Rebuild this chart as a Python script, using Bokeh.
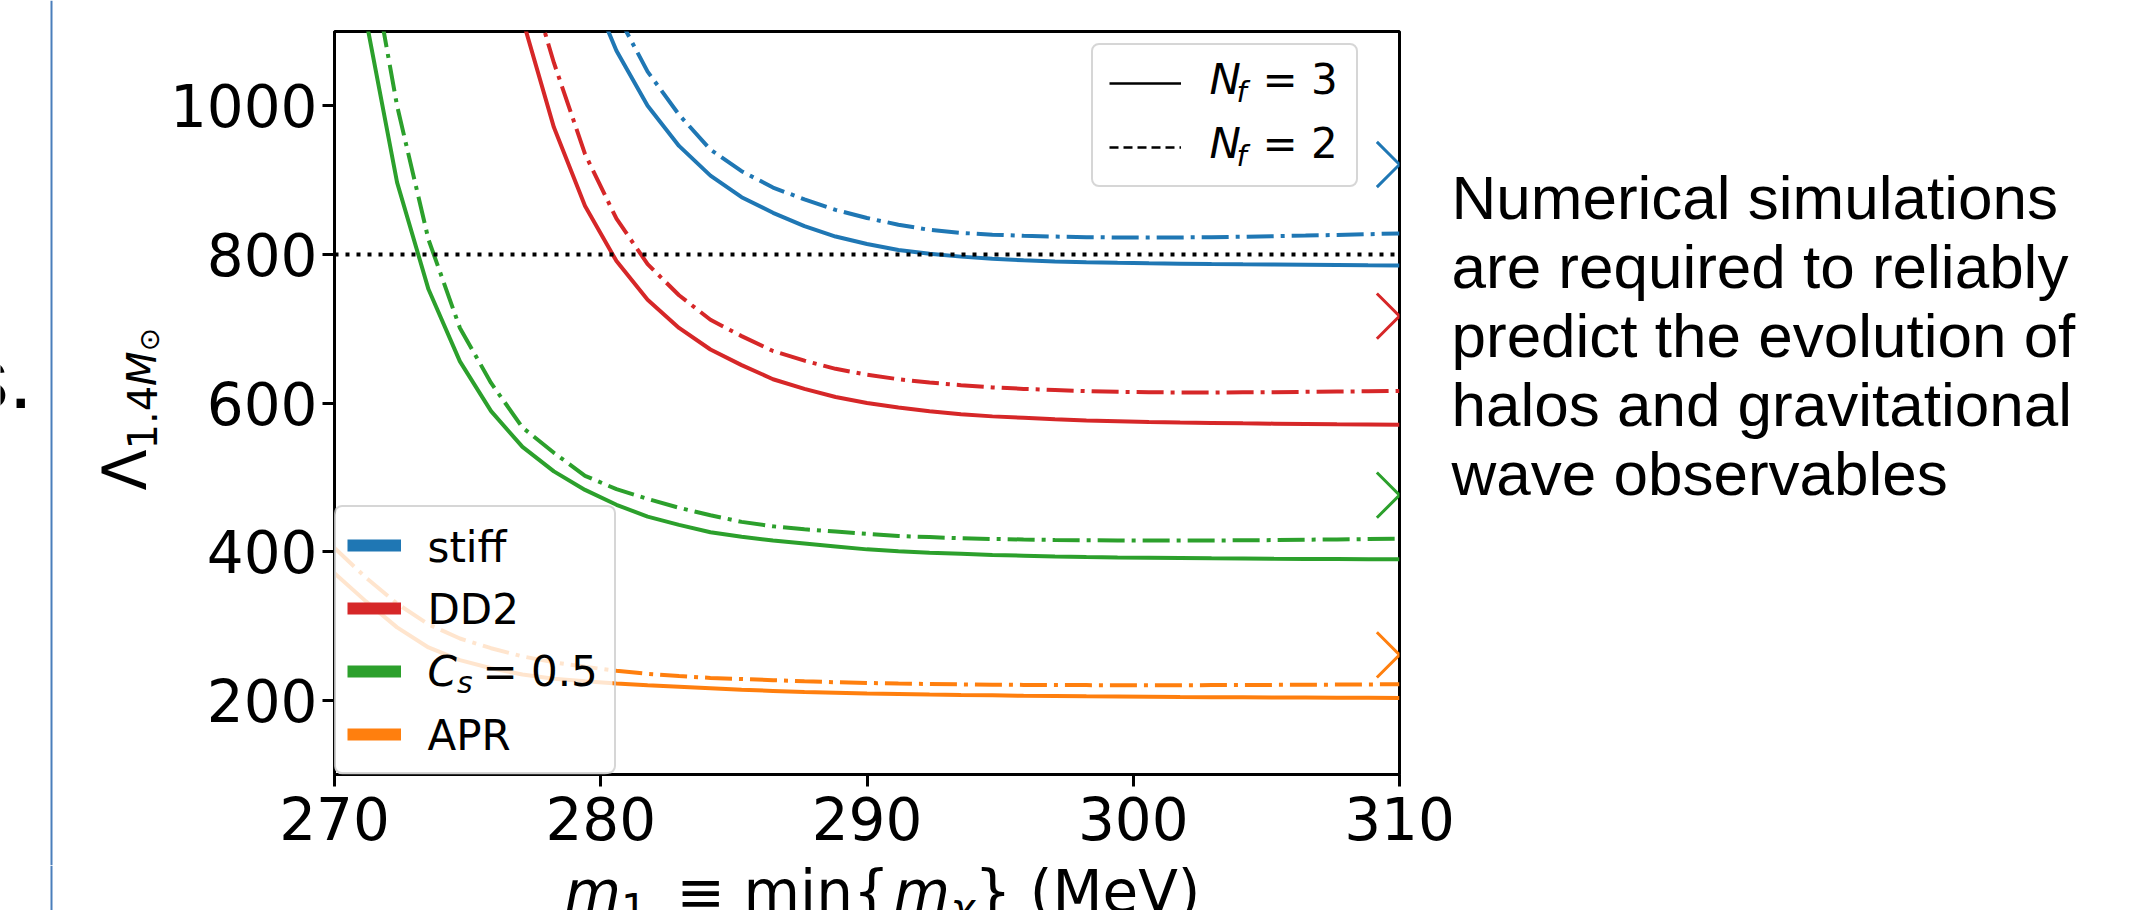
import math
from bokeh.plotting import figure
from bokeh.layouts import row, column
from bokeh.models import (Label, Legend, LegendItem, FixedTicker, Range1d, Span,
                          ColumnDataSource, LinearAxis, BoxAnnotation)
from bokeh.embed import file_html
from bokeh.resources import INLINE

NAN = float("nan")

# ---------------- data ----------------
M1 = [270.00, 271.18, 272.35, 273.53, 274.71, 275.88, 277.06, 278.24, 279.41,
      280.59, 281.76, 282.94, 284.12, 285.29, 286.47, 287.65, 288.82, 290.00,
      291.18, 292.35, 293.53, 294.71, 295.88, 297.06, 298.24, 299.41, 300.59,
      301.76, 302.94, 304.12, 305.29, 306.47, 307.65, 308.82, 310.00]

STIFF_NF3 = [NAN, NAN, NAN, NAN, NAN, NAN, NAN, NAN, 1175, 1074, 1000, 946, 906,
             877, 856, 838, 824, 814, 806, 801, 797, 794, 792, 790.5, 789.5,
             788.7, 788.0, 787.5, 787.0, 786.6, 786.3, 786.0, 785.7, 785.4, 785.2]
STIFF_NF2 = [NAN, NAN, NAN, NAN, NAN, NAN, NAN, NAN, NAN, 1125, 1046, 988, 941,
             912, 890, 874, 860, 849, 840, 833, 829, 826.5, 825, 824, 823.2,
             822.8, 822.6, 822.8, 823.2, 823.8, 824.5, 825.3, 826.2, 827.2, 828.2]
DD2_NF3 = [NAN, NAN, NAN, NAN, NAN, NAN, 1117, 971, 865, 791, 739, 701, 672,
           651, 632, 619, 608, 600, 594, 589, 585, 582, 580, 578, 576.5, 575.5,
           574.5, 573.8, 573.2, 572.6, 572.2, 571.8, 571.4, 571.1, 570.8]
DD2_NF2 = [NAN, NAN, NAN, NAN, NAN, NAN, 1200, 1058, 935, 848, 787, 745, 712,
           690, 670, 657, 646, 638, 632, 627.5, 624, 621, 619, 617.5, 616, 615,
           614.5, 614.2, 614.2, 614.4, 614.6, 615.0, 615.4, 615.8, 616.3]
CS05_NF3 = [NAN, 1117, 897, 753, 656, 589, 541, 508, 483, 463, 447, 436, 426,
            420, 415, 411, 407, 403, 400.5, 398.5, 397, 395.5, 394.5, 393.5,
            392.8, 392.2, 391.8, 391.4, 391.0, 390.7, 390.4, 390.2, 390.0, 389.8, 389.6]
CS05_NF2 = [NAN, 1234, 1000, 820, 701, 627, 567, 533, 502, 484, 471, 459, 449,
            440, 434, 430, 427, 424, 421, 419.5, 418, 417, 416.3, 415.7, 415.2,
            415.0, 414.8, 414.8, 415.0, 415.2, 415.5, 416.0, 416.4, 416.8, 417.2]
APR_NF3 = [371, 333, 298, 271, 254, 243, 234.5, 229, 225.5, 222.5, 220, 218,
           216, 214, 212.5, 211, 210, 209, 208.3, 207.6, 207, 206.5, 206, 205.6,
           205.2, 204.9, 204.6, 204.3, 204.1, 203.9, 203.7, 203.5, 203.3, 203.2, 203.0]
APR_NF2 = [405, 365, 330, 302, 283, 270, 259, 251, 245, 239.5, 235.5, 232.5,
           230, 228.5, 227, 225.5, 224.2, 223.2, 222.4, 221.8, 221.3, 220.9,
           220.6, 220.4, 220.3, 220.2, 220.2, 220.2, 220.3, 220.4, 220.6, 220.8,
           221.0, 221.2, 221.5]

EOS_NAMES = ["stiff", "DD2", "C_s = 0.5", "APR"]
EOS_COLORS = ["#1f77b4", "#d62728", "#2ca02c", "#ff7f0e"]
SIM_M1 = [310, 310, 310, 310]
SIM_LAMBDA = [921, 717, 476, 261]
LAMBDA_LIMIT = 800

X_RANGE = (270, 310)
Y_RANGE = (100, 1100)
X_TICKS = [270, 280, 290, 300, 310]
Y_TICKS = [200, 400, 600, 800, 1000]

SIDE_TEXT = ["Numerical simulations", "are required to reliably",
             "predict the evolution of", "halos and gravitational",
             "wave observables"]

# ---------------- layout constants (page pixels) ----------------
LEFT_W = 163                     # width of the strip left of the main figure
FX0, FY0 = 334, 31               # frame left / top
FW, FH = 1065, 743
FY1 = FY0 + FH                   # frame bottom (774)
MAIN_BOTTOM = 91
TOP_H = FY0 + FH + MAIN_BOTTOM   # 865
PAGE_W, PAGE_H = 2140, 910
FONT = "DejaVu Sans"
SIDE_FONT = "Liberation Sans"
DESC = 0.27                      # measured drop of Label text below its anchor (em)

# ---------------- main figure ----------------
p = figure(frame_width=FW, frame_height=FH, min_border_left=FX0 - LEFT_W,
           min_border_top=FY0, min_border_bottom=MAIN_BOTTOM, min_border_right=0,
           x_range=Range1d(*X_RANGE), y_range=Range1d(*Y_RANGE),
           output_backend="svg", toolbar_location=None)
p.xgrid.visible = False
p.ygrid.visible = False
p.outline_line_color = "black"
p.outline_line_width = 3
p.outline_line_alpha = 1

xax, yax = p.xaxis[0], p.yaxis[0]
for ax in (xax, yax):
    ax.axis_line_width = 3
    ax.axis_line_color = "black"
    ax.major_tick_line_width = 3
    ax.major_tick_line_color = "black"
    ax.major_tick_out = 12
    ax.major_tick_in = 0
    ax.minor_tick_line_color = None
    ax.major_label_text_font = FONT
    ax.major_label_text_font_size = "58px"
    ax.major_label_text_color = "black"
xax.ticker = FixedTicker(ticks=X_TICKS)
yax.ticker = FixedTicker(ticks=Y_TICKS)
xax.major_label_standoff = 10
yax.major_label_standoff = 5

# curves
SERIES = [(STIFF_NF3, STIFF_NF2), (DD2_NF3, DD2_NF2),
          (CS05_NF3, CS05_NF2), (APR_NF3, APR_NF2)]
for (nf3, nf2), col in zip(SERIES, EOS_COLORS):
    p.line(M1, nf3, line_color=col, line_width=4)
    p.line(M1, nf2, line_color=col, line_width=4, line_dash="27 7 4 7")

p.add_layout(Span(location=LAMBDA_LIMIT, dimension="width", line_color="black",
                  line_width=4, line_dash="4 7"))

sim_src = ColumnDataSource(dict(x=SIM_M1, y=SIM_LAMBDA, c=EOS_COLORS))
p.scatter("x", "y", source=sim_src, marker="x", size=64, line_color="c",
          line_width=3)

# legend boxes: translucent white fill drawn under the legend texts
LEG1_BOX = (1091, 1354, 47, 187)      # left, right, top, bottom (page px)
LEG2_BOX = (334, 612, 509, 774)
for (l, r, t, b) in (LEG1_BOX, LEG2_BOX):
    p.add_layout(BoxAnnotation(left=l - FX0, right=r - FX0, top=FY1 - t,
                               bottom=FY1 - b, left_units="screen",
                               right_units="screen", top_units="screen",
                               bottom_units="screen", fill_color="white",
                               fill_alpha=0.8, line_color=None, border_radius=8))

# legends (handles from placeholder renderers that draw nothing in the plot)
r_nf3 = p.line([NAN], [NAN], line_color="black", line_width=2.5)
r_nf2 = p.line([NAN], [NAN], line_color="black", line_width=2.5, line_dash="9 5")
leg_style = dict(margin=0, label_text_font_size="8px", border_line_color="#cccccc",
                 border_line_width=2.5, border_line_alpha=0.8,
                 background_fill_alpha=0, border_radius=8)
leg1 = Legend(items=[LegendItem(label=" ", renderers=[r_nf3]),
                     LegendItem(label=" ", renderers=[r_nf2])],
              location=(LEG1_BOX[0] - FX0, FY1 - LEG1_BOX[3]), glyph_width=72,
              glyph_height=44, label_height=44, label_width=126,
              label_standoff=33, padding=16, spacing=20, **leg_style)
p.add_layout(leg1)

eos_handles = [p.line([NAN], [NAN], line_color=c, line_width=12) for c in EOS_COLORS]
leg2 = Legend(items=[LegendItem(label=" ", renderers=[r]) for r in eos_handles],
              location=(0, 0), glyph_width=54, glyph_height=54, label_height=54,
              label_width=174, label_standoff=28, padding=11, spacing=9,
              **leg_style)
p.add_layout(leg2)


def lab(fig, text, X, Y, size, style="normal", font=FONT, rotated=False,
        screen=False):
    """Place a text piece so that its baseline starts at page pixel (X, Y)."""
    if rotated:
        X = X - DESC * size
    else:
        Y = Y - DESC * size
    if screen:   # relative to the main frame
        kw = dict(x=X - FX0, y=FY1 - Y, x_units="screen", y_units="screen")
    else:        # helper figures use page pixels as data (y negated)
        kw = dict(x=X, y=-Y)
    fig.add_layout(Label(text=text, text_font=font, text_font_size=f"{size}px",
                         text_font_style=style, text_align="left",
                         text_baseline="alphabetic",
                         angle=math.pi / 2 if rotated else 0.0,
                         text_color="black", level="overlay", **kw))


# legend 1 texts: N_f = 3 / N_f = 2
for val, base in (("3", 90.5), ("2", 154.5)):
    lab(p, "N", 1209, base, 42, "italic", screen=True)
    lab(p, "f", 1236, base + 8.5, 29, "italic", screen=True)
    lab(p, "= " + val, 1262, base, 42, screen=True)

# legend 2 texts
lab(p, EOS_NAMES[0], 427, 558.3, 42, screen=True)
lab(p, EOS_NAMES[1], 427, 620.7, 42, screen=True)
lab(p, "C", 427, 682.7, 42, "italic", screen=True)
lab(p, "s", 456.5, 690.5, 30, "italic", screen=True)
lab(p, "= 0.5", 482, 682.7, 42, screen=True)
lab(p, EOS_NAMES[3], 427, 746.7, 42, screen=True)

# slide text to the right of the plot, carried by a right-hand axis
p.extra_y_ranges = {"side": Range1d(-FY1, -FY0)}
side_base = [218, 287, 356, 425, 494]
side_ticks = [-round(b - 0.3465 * 62) for b in side_base]
side_axis = LinearAxis(y_range_name="side", ticker=FixedTicker(ticks=side_ticks),
                       major_label_overrides=dict(zip(side_ticks, SIDE_TEXT)),
                       axis_line_color=None, major_tick_line_color=None,
                       minor_tick_line_color=None, major_tick_out=0,
                       major_tick_in=0, major_label_standoff=52,
                       major_label_text_font=SIDE_FONT,
                       major_label_text_font_size="62px",
                       major_label_text_color="black")
p.add_layout(side_axis, "right")

# ---------------- left strip: slide rule, text fragment, y label ----------------
fl = figure(width=LEFT_W, height=TOP_H, x_range=Range1d(0, LEFT_W),
            y_range=Range1d(-TOP_H, 0), min_border=0, x_axis_location=None,
            y_axis_location=None, output_backend="svg", toolbar_location=None)
fl.grid.visible = False
fl.outline_line_color = None
fl.add_layout(Span(location=51, dimension="height", line_color="#4a7ebb",
                   line_width=2))
lab(fl, "s.", -36, 401, 88, font=SIDE_FONT)
lab(fl, "\u039b", 141, 490, 60, rotated=True)
lab(fl, "1.4", 152, 449, 40, rotated=True)
lab(fl, "M", 152, 385.5, 40, "italic", rotated=True)
lab(fl, "\u2299", 157, 351, 28, rotated=True)

# ---------------- bottom strip: x axis label ----------------
fb = figure(width=PAGE_W, height=PAGE_H - TOP_H, x_range=Range1d(0, PAGE_W),
            y_range=Range1d(-PAGE_H, -TOP_H), min_border=0, x_axis_location=None,
            y_axis_location=None, output_backend="svg", toolbar_location=None)
fb.grid.visible = False
fb.outline_line_color = None
fb.add_layout(Span(location=51, dimension="height", line_color="#4a7ebb",
                   line_width=2))
xb, xs = 907, 919
lab(fb, "m", 564, xb, 58, "italic")
lab(fb, "1", 620.5, xs, 41)
lab(fb, "\u2261 min{", 676, xb, 58)
lab(fb, "m", 893, xb, 58, "italic")
lab(fb, "\u03c7", 950, xs, 41, "italic")
lab(fb, "} (MeV)", 974, xb, 58)

# keep each strip's frame equal to its own canvas
for f in (fl, fb, p):
    if "frame_align" in f.properties():
        f.frame_align = False

layout = column(row(fl, p), fb)
open("out.html", "w").write(file_html(layout, INLINE))
